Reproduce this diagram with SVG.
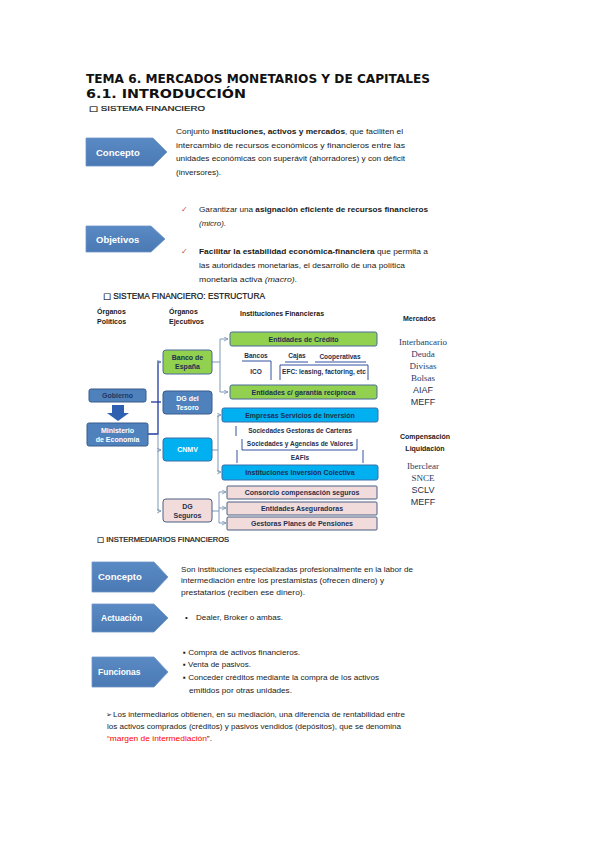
<svg xmlns="http://www.w3.org/2000/svg" width="599" height="848" viewBox="0 0 599 848">
<defs>
<marker id="ah" viewBox="0 0 6 6" refX="5" refY="3" markerWidth="5" markerHeight="5" orient="auto">
<path d="M0,0.5 L5,3 L0,5.5" fill="none" stroke="#7f97b8" stroke-width="1"/>
</marker>
<linearGradient id="blue" x1="0" y1="0" x2="0" y2="1">
<stop offset="0" stop-color="#5a8ac4"/><stop offset="1" stop-color="#4a79b4"/>
</linearGradient>
</defs>
<style>
.t{font-family:"Liberation Sans","DejaVu Sans",sans-serif;fill:#1a1a1a}
.title{font-family:"DejaVu Sans",sans-serif;font-weight:bold;font-size:13px;fill:#111}
.b{font-weight:bold}
.arw{fill:url(#blue);stroke:#6f95c7;stroke-width:0.8}
.aw{font-family:"Liberation Sans",sans-serif;font-weight:bold;font-size:9.5px;fill:#fff}
.nb{fill:#4f81bd;stroke:#385d8a;stroke-width:1}
.ng{fill:#92d050;stroke:#4a6a9a;stroke-width:1}
.nc{fill:#00b0f0;stroke:#3a6fa8;stroke-width:1}
.np{fill:#f2dcdb;stroke:#4a5f85;stroke-width:1}
.nt{font-family:"Liberation Sans",sans-serif;font-weight:bold;font-size:7px;text-anchor:middle;fill:#1f2f4f}
.nw{fill:#fff}
.mk{font-family:"Liberation Serif",serif;font-size:9px;fill:#2b3a66;text-anchor:middle}
.ms{font-family:"Liberation Sans",sans-serif;font-size:9px;fill:#1f2f4f;text-anchor:middle}
.cn{fill:none;stroke:#7f97b8;stroke-width:1}
.cd{fill:none;stroke:#1f3aa0;stroke-width:1.3}
.ln{fill:none;stroke:#3050a0;stroke-width:1}
.h{font-family:"Liberation Sans",sans-serif;font-size:7px;fill:#111;stroke:#111;stroke-width:0.2}
.sq{font-family:"DejaVu Sans",sans-serif}
</style>

<g id="header">
<text class="title" x="86" y="83" textLength="344" lengthAdjust="spacingAndGlyphs">TEMA 6. MERCADOS MONETARIOS Y DE CAPITALES</text>
<text class="title" x="86" y="98" textLength="160" lengthAdjust="spacingAndGlyphs">6.1. INTRODUCCIÓN</text>
<text class="h" x="89" y="111" textLength="116" lengthAdjust="spacingAndGlyphs"><tspan class="sq">□</tspan> SISTEMA FINANCIERO</text>
</g>

<g id="concepto1">
<path class="arw" d="M86,138 H153 L167,152 L153,166 H86 Z"/>
<text class="aw" x="96" y="156">Concepto</text>
<text class="t" x="176" y="134" font-size="8" textLength="227" lengthAdjust="spacingAndGlyphs">Conjunto <tspan class="b">instituciones, activos y mercados</tspan>, que faciliten el</text>
<text class="t" x="176" y="148" font-size="8" textLength="229" lengthAdjust="spacingAndGlyphs">intercambio de recursos económicos  y financieros entre las</text>
<text class="t" x="176" y="161" font-size="8" textLength="229" lengthAdjust="spacingAndGlyphs">unidades económicas con superávit (ahorradores) y con déficit</text>
<text class="t" x="176" y="175" font-size="8" textLength="45" lengthAdjust="spacingAndGlyphs">(inversores).</text>
</g>

<g id="objetivos1">
<path class="arw" d="M86,226 H151 L165,239 L151,252 H86 Z"/>
<text class="aw" x="96" y="243">Objetivos</text>
<text class="t" x="181" y="212" font-size="8" style="fill:#c0504d">✓</text>
<text class="t" x="199" y="212" font-size="8" textLength="229" lengthAdjust="spacingAndGlyphs">Garantizar una <tspan class="b">asignación eficiente de recursos financieros</tspan></text>
<text class="t" x="199" y="226" font-size="8" font-style="italic">(micro).</text>
<text class="t" x="181" y="254" font-size="8" style="fill:#c0504d">✓</text>
<text class="t" x="199" y="254" font-size="8" textLength="229" lengthAdjust="spacingAndGlyphs"><tspan class="b">Facilitar la estabilidad económica-financiera</tspan> que permita a</text>
<text class="t" x="199" y="268" font-size="8" textLength="206" lengthAdjust="spacingAndGlyphs">las autoridades monetarias, el desarrollo de una política</text>
<text class="t" x="199" y="282" font-size="8" textLength="98" lengthAdjust="spacingAndGlyphs">monetaria activa <tspan font-style="italic">(macro)</tspan>.</text>
</g>

<g id="estructura-headers">
<text class="h" x="103" y="299" style="font-size:8.5px" textLength="162" lengthAdjust="spacingAndGlyphs"><tspan class="sq">□</tspan> SISTEMA FINANCIERO: ESTRUCTURA</text>
<text class="t b" x="97" y="314" font-size="7">Órganos</text>
<text class="t b" x="97" y="324" font-size="7">Políticos</text>
<text class="t b" x="169" y="314" font-size="7">Órganos</text>
<text class="t b" x="169" y="324" font-size="7">Ejecutivos</text>
<text class="t b" x="240" y="316" font-size="7">Instituciones Financieras</text>
<text class="t b" x="403" y="321" font-size="7">Mercados</text>
</g>

<g id="mercados">
<text class="mk" x="423" y="345">Interbancario</text>
<text class="mk" x="423" y="357">Deuda</text>
<text class="mk" x="423" y="369">Divisas</text>
<text class="mk" x="423" y="381">Bolsas</text>
<text class="ms" x="423" y="393">AIAF</text>
<text class="ms" x="423" y="405">MEFF</text>
</g>

<g id="compensacion">
<text class="t b" x="425" y="439" font-size="7" text-anchor="middle">Compensación</text>
<text class="t b" x="425" y="451" font-size="7" text-anchor="middle">Liquidación</text>
<text class="mk" x="423" y="469">Iberclear</text>
<text class="mk" x="423" y="481">SNCE</text>
<text class="ms" x="423" y="493">SCLV</text>
<text class="ms" x="423" y="505">MEFF</text>
</g>

<g id="connectors">
<path class="cd" d="M148,434 H158 V362 H161"/>
<path class="cd" d="M151,402 H161"/>
<path class="cn" d="M158,434 V511 H161" marker-end="url(#ah)"/>
<path class="cn" d="M158,450 H161" marker-end="url(#ah)"/>
<path class="cn" d="M158,362 H161" marker-end="url(#ah)"/>
<path class="cn" d="M212,362 H220 M220,339 V392"/>
<path class="cn" d="M220,339 H228" marker-end="url(#ah)"/>
<path class="cn" d="M220,392 H228" marker-end="url(#ah)"/>
<path class="cn" d="M212,450 H218 M218,415 V472"/>
<path class="cn" d="M218,415 H221" marker-end="url(#ah)"/>
<path class="cn" d="M218,472 H221" marker-end="url(#ah)"/>
<path class="cn" d="M212,511 H219 M219,492 V523"/>
<path class="cn" d="M219,492 H226" marker-end="url(#ah)"/>
<path class="cn" d="M219,508 H226" marker-end="url(#ah)"/>
<path class="cn" d="M219,523 H226" marker-end="url(#ah)"/>
<path d="M112,405 H124 V413 H129 L118,421 L107,413 H112 Z" fill="#2f5fb0"/>
</g>

<g id="gobierno">
<rect class="nb" x="89" y="389" width="57" height="13" rx="2"/>
<text class="nt" x="117.5" y="398" style="fill:#1f3864">Gobierno</text>
</g>
<g id="ministerio">
<rect class="nb" x="87" y="423" width="61" height="23" rx="2"/>
<text class="nt nw" x="117.5" y="432.5">Ministerio</text>
<text class="nt nw" x="117.5" y="441.5">de Economía</text>
</g>
<g id="banco-espana">
<rect class="ng" x="163" y="350" width="49" height="24" rx="3"/>
<text class="nt" x="187.5" y="360">Banco de</text>
<text class="nt" x="187.5" y="369">España</text>
</g>
<g id="dg-tesoro">
<rect class="nb" x="163" y="391" width="49" height="23" rx="3"/>
<text class="nt nw" x="187.5" y="400.5">DG del</text>
<text class="nt nw" x="187.5" y="409.5">Tesoro</text>
</g>
<g id="cnmv">
<rect class="nc" x="163" y="438" width="49" height="23" rx="3"/>
<text class="nt nw" x="187.5" y="452">CNMV</text>
</g>
<g id="dg-seguros">
<rect class="np" x="163" y="499" width="49" height="23" rx="3"/>
<text class="nt" x="187.5" y="508.5">DG</text>
<text class="nt" x="187.5" y="517.5">Seguros</text>
</g>

<g id="entidades-credito">
<rect class="ng" x="230" y="332" width="147" height="14" rx="2"/>
<text class="nt" x="303.5" y="341.5">Entidades de Crédito</text>
</g>
<g id="credito-sub">
<text class="nt" x="256" y="358" font-weight="normal" style="font-size:6.5px">Bancos</text>
<text class="nt" x="297" y="358" font-weight="normal" style="font-size:6.5px">Cajas</text>
<text class="nt" x="340" y="359" font-weight="normal" style="font-size:6.5px">Cooperativas</text>
<text class="nt" x="256" y="374" style="font-size:6.5px">ICO</text>
<text class="nt" x="324" y="374" style="font-size:6.5px">EFC: leasing, factoring, etc</text>
<path class="ln" d="M242,361 H271 V380"/>
<path class="ln" d="M285,362 H308 M315,362 H366"/>
<path class="ln" d="M280,380 V365 H368 V380"/>
</g>
<g id="garantia-reciproca">
<rect class="ng" x="230" y="385" width="147" height="14" rx="2"/>
<text class="nt" x="303.5" y="394.5">Entidades c/ garantía recíproca</text>
</g>

<g id="empresas-servicios">
<rect class="nc" x="222" y="408" width="156" height="14" rx="2"/>
<text class="nt" x="300" y="417.5">Empresas Servicios de Inversión</text>
</g>
<g id="cnmv-sub">
<text class="nt" x="300" y="433" style="font-size:6.5px">Sociedades Gestoras de Carteras</text>
<text class="nt" x="300" y="446" style="font-size:6.5px">Sociedades  y Agencias de Valores</text>
<text class="nt" x="300" y="460" style="font-size:6.5px">EAFIs</text>
<path class="ln" d="M236,426 V436"/>
<path class="ln" d="M242,439 V450 H357 V439"/>
<path class="ln" d="M237,450 V463 M363,450 V463"/>
</g>
<g id="instituciones-colectiva">
<rect class="nc" x="222" y="465" width="156" height="15" rx="2"/>
<text class="nt" x="300" y="475">Instituciones Inversión Colectiva</text>
</g>

<g id="consorcio">
<rect class="np" x="227" y="486" width="150" height="13" rx="1"/>
<text class="nt" x="302" y="495">Consorcio compensación seguros</text>
</g>
<g id="aseguradoras">
<rect class="np" x="227" y="502" width="150" height="13" rx="1"/>
<text class="nt" x="302" y="511">Entidades Aseguradoras</text>
</g>
<g id="planes-pensiones">
<rect class="np" x="227" y="517" width="150" height="13" rx="1"/>
<text class="nt" x="302" y="526">Gestoras Planes de Pensiones</text>
</g>

<g id="intermediarios">
<text class="h" x="97" y="542" textLength="132" lengthAdjust="spacingAndGlyphs"><tspan class="sq">□</tspan> INSTERMEDIARIOS FINANCIEROS</text>
<path class="arw" d="M92,562 H154 L168,577 L154,592 H92 Z"/>
<text class="aw" x="98" y="580">Concepto</text>
<text class="t" x="181" y="572" font-size="8" textLength="232" lengthAdjust="spacingAndGlyphs">Son instituciones especializadas profesionalmente en la labor de</text>
<text class="t" x="181" y="583" font-size="8" textLength="203" lengthAdjust="spacingAndGlyphs">intermediación entre los prestamistas (ofrecen dinero) y</text>
<text class="t" x="181" y="595" font-size="8" textLength="124" lengthAdjust="spacingAndGlyphs">prestatarios (reciben ese dinero).</text>

<path class="arw" d="M92,604 H154 L168,618 L154,632 H92 Z"/>
<text class="aw" x="101" y="621" style="font-size:8.5px">Actuación</text>
<text class="t" x="185" y="620" font-size="8">•</text>
<text class="t" x="196" y="620" font-size="8" textLength="87" lengthAdjust="spacingAndGlyphs">Dealer, Broker o ambas.</text>

<path class="arw" d="M92,657 H154 L168,672 L154,687 H92 Z"/>
<text class="aw" x="98" y="675" style="font-size:8.5px">Funcionas</text>
<text class="t" x="183" y="655" font-size="8" textLength="117" lengthAdjust="spacingAndGlyphs">▪ Compra de activos financieros.</text>
<text class="t" x="183" y="667" font-size="8" textLength="68" lengthAdjust="spacingAndGlyphs">▪ Venta de pasivos.</text>
<text class="t" x="183" y="680" font-size="8" textLength="196" lengthAdjust="spacingAndGlyphs">▪ Conceder créditos mediante la compra de los activos</text>
<text class="t" x="189" y="693" font-size="8" textLength="103" lengthAdjust="spacingAndGlyphs">emitidos por otras unidades.</text>
</g>

<g id="margen">
<text class="t" x="106" y="717" font-size="7">➢</text>
<text class="t" x="113" y="717" font-size="8" textLength="292" lengthAdjust="spacingAndGlyphs">Los intermediarios obtienen, en su mediación, una diferencia de rentabilidad entre</text>
<text class="t" x="107" y="729" font-size="8" textLength="294" lengthAdjust="spacingAndGlyphs">los activos comprados (créditos) y pasivos vendidos (depósitos), que se denomina</text>
<text class="t" x="107" y="741" font-size="8" textLength="105" lengthAdjust="spacingAndGlyphs"><tspan style="fill:#ff0000">“margen de intermediación</tspan>”.</text>
</g>
</svg>
